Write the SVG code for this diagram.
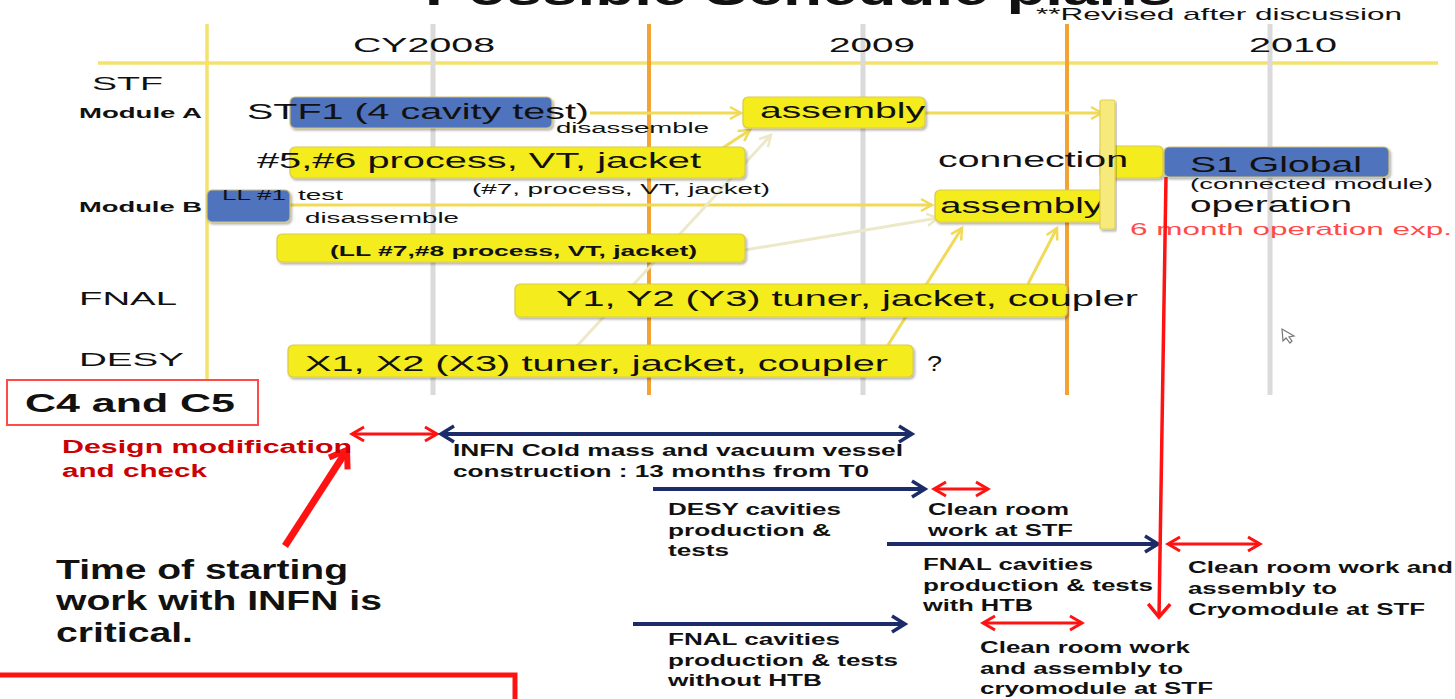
<svg xmlns="http://www.w3.org/2000/svg" width="1455" height="699" viewBox="0 0 1455 699">
<style>
text{font-family:"Liberation Sans",Arial,sans-serif;fill:#111}
.b{font-weight:bold}
.s14{font-size:14px}
.s16{font-size:16px;font-weight:bold}
.s19{font-size:19px}
.s20{font-size:20px}
.s22{font-size:22px}
.yb{fill:#f4ec1e;stroke:#d9c94c;stroke-width:1.2}
.bb{fill:#4f73bd;stroke:#cdbf76;stroke-width:1.2}
.grid-g{stroke:#dadada;stroke-width:5}
.grid-o{stroke:#f3a234;stroke-width:4}
.grid-y{stroke:#f4e26c;stroke-width:3.5}
.yc{stroke:#f1da58;stroke-width:3;fill:none;marker-end:url(#yH)}
.cc{stroke:#ece8c8;stroke-width:3;fill:none;marker-end:url(#cH)}
.nv{stroke:#1c2c6a;stroke-width:4;fill:none;marker-end:url(#nH)}
.rd{stroke:#ff1212;stroke-width:3;fill:none;marker-start:url(#rH);marker-end:url(#rH)}
</style>
<defs>
<filter id="sh" x="-5%" y="-20%" width="112%" height="150%">
<feDropShadow dx="1.5" dy="2" stdDeviation="1.2" flood-color="#000" flood-opacity="0.3"/>
</filter>
<marker id="yH" markerUnits="userSpaceOnUse" markerWidth="16" markerHeight="16" refX="11" refY="6" orient="auto" overflow="visible"><path d="M0,0 L11,6 L0,12" fill="none" stroke="#f1da58" stroke-width="2.5"/></marker>
<marker id="cH" markerUnits="userSpaceOnUse" markerWidth="16" markerHeight="16" refX="11" refY="6" orient="auto" overflow="visible"><path d="M0,0 L11,6 L0,12" fill="none" stroke="#ece8c8" stroke-width="2.5"/></marker>
<marker id="nH" markerUnits="userSpaceOnUse" markerWidth="20" markerHeight="20" refX="13" refY="8" orient="auto-start-reverse" overflow="visible"><path d="M0,0 L13,8 L0,16" fill="none" stroke="#1c2c6a" stroke-width="3.5"/></marker>
<marker id="rH" markerUnits="userSpaceOnUse" markerWidth="20" markerHeight="20" refX="12" refY="7" orient="auto-start-reverse" overflow="visible"><path d="M0,0 L12,7 L0,14" fill="none" stroke="#ff1212" stroke-width="3"/></marker>
<marker id="rBig" markerUnits="userSpaceOnUse" markerWidth="30" markerHeight="30" refX="16" refY="11" orient="auto" overflow="visible"><path d="M0,0 L16,11 L0,22" fill="none" stroke="#ff1212" stroke-width="6"/></marker>
<marker id="rV" markerUnits="userSpaceOnUse" markerWidth="20" markerHeight="30" refX="13" refY="11" orient="auto" overflow="visible"><path d="M0,0 L13,11 L0,22" fill="none" stroke="#ff1212" stroke-width="3.5"/></marker>
</defs>
<rect width="1455" height="699" fill="#fff"/>

<g id="header">
<text x="425" y="5" class="b" style="font-size:44px" textLength="748" lengthAdjust="spacingAndGlyphs">Possible Schedule plans</text>
<text x="1036" y="20" style="font-size:17px" textLength="366" lengthAdjust="spacingAndGlyphs">**Revised after discussion</text>
</g>

<g id="grid">
<line class="grid-y" x1="98" y1="63" x2="1438" y2="63"/>
<line class="grid-y" x1="207" y1="24" x2="207" y2="380"/>
<line class="grid-g" x1="433" y1="24" x2="433" y2="395"/>
<line class="grid-g" x1="863" y1="24" x2="863" y2="395"/>
<line class="grid-g" x1="1270" y1="24" x2="1270" y2="395"/>
<line class="grid-o" x1="649" y1="24" x2="649" y2="395"/>
<line class="grid-o" x1="1067" y1="24" x2="1067" y2="395"/>
<text x="353" y="52" class="s20" textLength="142" lengthAdjust="spacingAndGlyphs">CY2008</text>
<text x="829" y="52" class="s20" textLength="86" lengthAdjust="spacingAndGlyphs">2009</text>
<text x="1249" y="52" class="s20" textLength="88" lengthAdjust="spacingAndGlyphs">2010</text>
<text x="92" y="90" class="s19" textLength="71" lengthAdjust="spacingAndGlyphs">STF</text>
<text x="79" y="118" class="b s14" textLength="123" lengthAdjust="spacingAndGlyphs">Module A</text>
<text x="79" y="212" class="b s14" textLength="123" lengthAdjust="spacingAndGlyphs">Module B</text>
<text x="79" y="305" class="s19" textLength="98" lengthAdjust="spacingAndGlyphs">FNAL</text>
<text x="79" y="366" class="s19" textLength="105" lengthAdjust="spacingAndGlyphs">DESY</text>
</g>

<g id="connectors">
<line class="yc" x1="590" y1="113" x2="741" y2="113"/>
<line class="yc" x1="925" y1="113" x2="1102" y2="113"/>
<line class="yc" x1="290" y1="205" x2="932" y2="205"/>
<line class="yc" x1="718" y1="151" x2="750" y2="130"/>
<line class="cc" x1="577" y1="346" x2="771" y2="135"/>
<line class="cc" x1="745" y1="250" x2="938" y2="218"/>
<line class="yc" x1="888" y1="345" x2="962" y2="228"/>
<line class="yc" x1="1028" y1="284" x2="1057" y2="228"/>
</g>

<g id="stf1">
<rect class="bb" x="290" y="97" width="262" height="31" rx="5" filter="url(#sh)"/>
<text x="247" y="119" class="s22" textLength="342" lengthAdjust="spacingAndGlyphs">STF1 (4 cavity test)</text>
<text x="556" y="133" class="s14" textLength="153" lengthAdjust="spacingAndGlyphs">disassemble</text>
</g>
<g id="assemblyA">
<rect class="yb" x="743" y="97" width="182" height="31" rx="5" filter="url(#sh)"/>
<text x="760" y="118" class="s22" textLength="165" lengthAdjust="spacingAndGlyphs">assembly</text>
</g>
<g id="proc56">
<rect class="yb" x="290" y="147" width="455" height="31" rx="5" filter="url(#sh)"/>
<text x="257" y="168" class="s22" textLength="444" lengthAdjust="spacingAndGlyphs">#5,#6 process, VT, jacket</text>
<text x="472" y="194" class="s14" textLength="298" lengthAdjust="spacingAndGlyphs">(#7, process, VT, jacket)</text>
</g>
<g id="ll1">
<rect class="bb" x="207" y="190" width="83" height="32" rx="5" filter="url(#sh)"/>
<text x="222" y="200" class="s14" textLength="64" lengthAdjust="spacingAndGlyphs">LL #1</text>
<text x="298" y="200" class="s14" textLength="45" lengthAdjust="spacingAndGlyphs">test</text>
<text x="305" y="223" class="s14" textLength="154" lengthAdjust="spacingAndGlyphs">disassemble</text>
</g>
<g id="ll78">
<rect class="yb" x="277" y="234" width="468" height="28" rx="5" filter="url(#sh)"/>
<text x="330" y="256" class="b s14" textLength="367" lengthAdjust="spacingAndGlyphs">(LL #7,#8 process, VT, jacket)</text>
</g>
<g id="assemblyB">
<rect class="yb" x="935" y="190" width="173" height="32" rx="5" filter="url(#sh)"/>
<text x="940" y="213" class="s22" textLength="163" lengthAdjust="spacingAndGlyphs">assembly</text>
</g>
<g id="connection">
<rect class="yb" x="1100" y="146" width="63" height="32" rx="5" filter="url(#sh)"/>
<rect x="1100" y="100" width="15" height="129" rx="2" fill="#f6ea7c" stroke="#e2cf55" stroke-width="1.2" filter="url(#sh)"/>
<text x="938" y="167" class="s22" textLength="190" lengthAdjust="spacingAndGlyphs">connection</text>
</g>
<g id="s1global">
<rect class="bb" x="1164" y="147" width="225" height="30" rx="5" filter="url(#sh)"/>
<text x="1190" y="172" class="s22" textLength="172" lengthAdjust="spacingAndGlyphs">S1 Global</text>
<text x="1190" y="189" class="s14" textLength="243" lengthAdjust="spacingAndGlyphs">(connected module)</text>
<text x="1190" y="212" class="s22" textLength="162" lengthAdjust="spacingAndGlyphs">operation</text>
<text x="1130" y="235" style="font-size:17px;fill:#ff4a4a" textLength="322" lengthAdjust="spacingAndGlyphs">6 month operation exp.</text>
</g>
<g id="fnalY">
<rect class="yb" x="515" y="284" width="552" height="33" rx="5" filter="url(#sh)"/>
<text x="556" y="306" class="s22" textLength="582" lengthAdjust="spacingAndGlyphs">Y1, Y2 (Y3) tuner, jacket, coupler</text>
</g>
<g id="desyX">
<rect class="yb" x="288" y="345" width="625" height="32" rx="5" filter="url(#sh)"/>
<text x="305" y="371" class="s22" textLength="583" lengthAdjust="spacingAndGlyphs">X1, X2 (X3) tuner, jacket, coupler</text>
<text x="927" y="371" class="s22" textLength="15" lengthAdjust="spacingAndGlyphs">?</text>
</g>
<g id="cursor">
<path d="M1282,329 L1283,341 L1286,338 L1290,343 L1292,341 L1289,337 L1294,336 Z" fill="#fff" stroke="#777" stroke-width="1.2"/>
</g>

<g id="c4c5">
<rect x="7" y="380" width="251" height="45" fill="#fff" stroke="#ff4a4a" stroke-width="2"/>
<text x="25" y="412" class="b" style="font-size:26px" textLength="210" lengthAdjust="spacingAndGlyphs">C4 and C5</text>
</g>

<g id="bottom-arrows">
<line class="rd" x1="352" y1="434" x2="437" y2="434"/>
<line class="nv" x1="441" y1="434" x2="912" y2="434" style="marker-start:url(#nH)"/>
<line class="nv" x1="653" y1="489" x2="925" y2="489"/>
<line class="rd" x1="934" y1="489" x2="988" y2="489"/>
<line class="nv" x1="887" y1="544" x2="1158" y2="544"/>
<line class="rd" x1="1168" y1="544" x2="1260" y2="544"/>
<line class="nv" x1="633" y1="624" x2="905" y2="624"/>
<line class="rd" x1="983" y1="623" x2="1082" y2="623"/>
<line x1="285" y1="546" x2="347" y2="450" stroke="#ff1212" stroke-width="7" marker-end="url(#rBig)"/>
<line x1="1166" y1="177" x2="1159" y2="617" stroke="#ff1212" stroke-width="3.5" marker-end="url(#rV)"/>
<path d="M0,675 L515,675 L515,699" fill="none" stroke="#ff1212" stroke-width="5"/>
</g>

<g id="design">
<text x="62" y="453" class="b" style="font-size:18px;fill:#cc0000" textLength="290" lengthAdjust="spacingAndGlyphs">Design modification</text>
<text x="62" y="477" class="b" style="font-size:18px;fill:#cc0000" textLength="145" lengthAdjust="spacingAndGlyphs">and check</text>
</g>
<g id="infn">
<text x="453" y="456" class="s16" textLength="450" lengthAdjust="spacingAndGlyphs">INFN Cold mass and vacuum vessel</text>
<text x="453" y="477" class="s16" textLength="416" lengthAdjust="spacingAndGlyphs">construction : 13 months from  T0</text>
</g>
<g id="desy-cav">
<text x="668" y="515" class="s16" textLength="173" lengthAdjust="spacingAndGlyphs">DESY  cavities</text>
<text x="668" y="536" class="s16" textLength="163" lengthAdjust="spacingAndGlyphs">production &amp;</text>
<text x="668" y="556" class="s16" textLength="61" lengthAdjust="spacingAndGlyphs">tests</text>
</g>
<g id="clean1">
<text x="928" y="515" class="s16" textLength="141" lengthAdjust="spacingAndGlyphs">Clean room</text>
<text x="928" y="536" class="s16" textLength="145" lengthAdjust="spacingAndGlyphs">work at STF</text>
</g>
<g id="fnal-htb">
<text x="923" y="570" class="s16" textLength="170" lengthAdjust="spacingAndGlyphs">FNAL cavities</text>
<text x="923" y="591" class="s16" textLength="230" lengthAdjust="spacingAndGlyphs">production &amp; tests</text>
<text x="923" y="611" class="s16" textLength="110" lengthAdjust="spacingAndGlyphs">with HTB</text>
</g>
<g id="clean2">
<text x="1188" y="573" class="s16" textLength="265" lengthAdjust="spacingAndGlyphs">Clean room work and</text>
<text x="1188" y="594" class="s16" textLength="149" lengthAdjust="spacingAndGlyphs">assembly to</text>
<text x="1188" y="615" class="s16" textLength="237" lengthAdjust="spacingAndGlyphs">Cryomodule at STF</text>
</g>
<g id="fnal-nohtb">
<text x="668" y="645" class="s16" textLength="172" lengthAdjust="spacingAndGlyphs">FNAL cavities</text>
<text x="668" y="666" class="s16" textLength="230" lengthAdjust="spacingAndGlyphs">production &amp; tests</text>
<text x="668" y="686" class="s16" textLength="154" lengthAdjust="spacingAndGlyphs">without HTB</text>
</g>
<g id="clean3">
<text x="980" y="653" class="s16" textLength="210" lengthAdjust="spacingAndGlyphs">Clean room work</text>
<text x="980" y="674" class="s16" textLength="203" lengthAdjust="spacingAndGlyphs">and assembly to</text>
<text x="980" y="694" class="s16" textLength="233" lengthAdjust="spacingAndGlyphs">cryomodule at STF</text>
</g>
<g id="critical">
<text x="56" y="579" class="b" style="font-size:27px" textLength="292" lengthAdjust="spacingAndGlyphs">Time of starting</text>
<text x="56" y="610" class="b" style="font-size:27px" textLength="326" lengthAdjust="spacingAndGlyphs">work with INFN is</text>
<text x="56" y="642" class="b" style="font-size:27px" textLength="137" lengthAdjust="spacingAndGlyphs">critical.</text>
</g>
</svg>
